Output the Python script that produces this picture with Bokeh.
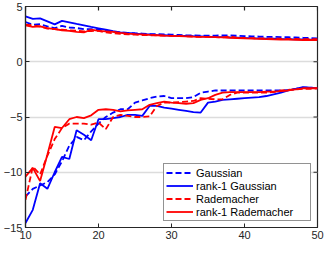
import math
from bokeh.plotting import figure
from bokeh.models import Range1d, FixedTicker, Legend, LegendItem
from bokeh.embed import file_html
from bokeh.resources import INLINE

n = list(range(10, 51))

# upper group (values near 2-4)
gauss_up = [3.6, 3.35, 3.4, 3.2, 3.05, 3.25, 3.1, 3.05, 2.95, 2.95, 2.9, 2.8, 2.7, 2.65, 2.62,
            2.58, 2.55, 2.5, 2.5, 2.48, 2.45, 2.43, 2.4, 2.38, 2.37, 2.37, 2.37, 2.38, 2.4, 2.35,
            2.32, 2.3, 2.28, 2.26, 2.25, 2.23, 2.22, 2.2, 2.17, 2.15, 2.12]
r1gauss_up = [4.1, 3.88, 3.92, 3.65, 3.38, 3.7, 3.57, 3.43, 3.3, 3.16, 3.03, 2.9, 2.76, 2.65, 2.6,
              2.55, 2.5, 2.47, 2.43, 2.4, 2.37, 2.35, 2.33, 2.31, 2.3, 2.28, 2.23, 2.22, 2.2, 2.18,
              2.15, 2.13, 2.12, 2.1, 2.08, 2.06, 2.05, 2.03, 2.02, 2.0, 2.0]
radem_up = [3.35, 3.3, 3.2, 3.0, 2.95, 2.9, 2.85, 2.8, 2.75, 2.78, 2.8, 2.65, 2.58, 2.52, 2.48,
            2.45, 2.42, 2.4, 2.38, 2.37, 2.35, 2.33, 2.3, 2.27, 2.25, 2.25, 2.22, 2.2, 2.3, 2.15,
            2.15, 2.13, 2.12, 2.1, 2.1, 2.08, 2.07, 2.06, 2.05, 2.05, 2.05]
r1radem_up = [3.3, 3.15, 3.2, 3.05, 2.95, 2.85, 2.8, 2.7, 2.65, 2.9, 2.8, 2.75, 2.7, 2.62, 2.55,
              2.5, 2.47, 2.43, 2.4, 2.37, 2.35, 2.32, 2.3, 2.27, 2.25, 2.25, 2.22, 2.2, 2.17, 2.15,
              2.12, 2.1, 2.07, 2.05, 2.03, 2.0, 2.0, 1.98, 1.97, 1.97, 1.97]

# lower group (values near -15 to -2.5)
gauss_lo = [-12.2, -11.5, -11.2, -10.9, -10.2, -9.0, -7.6, -6.8, -7.1, -6.3, -5.6, -5.0, -4.6,
            -4.3, -4.3, -3.7, -3.5, -3.3, -3.15, -3.1, -3.3, -3.3, -3.3, -3.2, -2.8, -2.7, -2.6,
            -2.6, -2.6, -2.6, -2.6, -2.6, -2.6, -2.6, -2.6, -2.6, -2.55, -2.45, -2.35, -2.35, -2.4]
r1gauss_lo = [-14.6, -13.4, -11.0, -11.5, -10.0, -8.6, -8.8, -6.2, -6.6, -7.1, -5.2, -5.2, -5.1,
              -5.0, -4.8, -4.8, -4.9, -4.0, -4.0, -4.15, -4.25, -4.35, -4.45, -4.55, -4.6, -3.7,
              -3.6, -3.45, -3.4, -3.35, -3.3, -3.25, -3.2, -3.1, -2.95, -2.8, -2.6, -2.45, -2.3,
              -2.35, -2.4]
radem_lo = [-12.5, -9.5, -10.2, -8.5, -7.0, -6.0, -5.6, -5.6, -5.6, -5.7, -5.5, -6.1, -5.0, -4.8,
            -4.9, -5.0, -5.0, -4.95, -4.0, -3.7, -3.7, -3.65, -3.6, -3.55, -3.3, -3.35, -3.4, -3.4,
            -3.0, -2.8, -2.8, -2.8, -2.8, -2.8, -2.75, -2.6, -2.55, -2.5, -2.45, -2.45, -2.4]
r1radem_lo = [-10.4, -9.6, -10.8, -8.4, -5.9, -6.0, -5.2, -5.0, -5.1, -4.85, -4.35, -4.3, -4.35,
              -4.5, -4.4, -4.35, -4.3, -3.9, -3.75, -3.6, -3.7, -3.75, -3.8, -3.75, -3.45, -3.3,
              -3.0, -2.8, -2.75, -2.75, -2.75, -2.75, -2.75, -2.7, -2.7, -2.65, -2.6, -2.5, -2.4,
              -2.4, -2.4]

labels = ["Gaussian", "rank-1 Gaussian", "Rademacher", "rank-1 Rademacher"]
x_ticks = [10, 20, 30, 40, 50]
y_ticks = [-15, -10, -5, 0, 5]
x_lim = (10, 50)
y_lim = (-15, 5)

AX = "#262626"
FONT = "Liberation Sans"

p = figure(width=324, height=241, x_range=Range1d(*x_lim), y_range=Range1d(*y_lim),
           output_backend="svg", toolbar_location=None,
           min_border_left=2, min_border_right=7, min_border_top=6, min_border_bottom=2)
p.background_fill_color = "white"
p.outline_line_color = AX
p.outline_line_width = 1.2

for ax in (p.xaxis[0], p.yaxis[0]):
    ax.axis_line_color = AX
    ax.axis_line_width = 1.2
    ax.major_tick_line_color = AX
    ax.major_tick_in = 4
    ax.major_tick_out = 0
    ax.minor_tick_line_color = None
    ax.major_label_text_font = FONT
    ax.major_label_text_font_size = "11px"
    ax.major_label_text_color = AX
    ax.major_label_standoff = 3
p.xaxis[0].ticker = FixedTicker(ticks=x_ticks)
p.yaxis[0].ticker = FixedTicker(ticks=y_ticks)

# inward tick marks on the top and right edges of the box
p.ray(x=x_ticks, y=[y_lim[1]] * len(x_ticks), length=4, length_units="screen",
      angle=-math.pi / 2, line_color=AX, line_width=1.2)
p.ray(x=[x_lim[1]] * len(y_ticks), y=y_ticks, length=4, length_units="screen",
      angle=math.pi, line_color=AX, line_width=1.2)

p.xgrid.grid_line_color = None
p.ygrid.ticker = FixedTicker(ticks=y_ticks)
p.ygrid.grid_line_color = "#dcdcdc"
p.ygrid.grid_line_width = 1.5

BLUE = "#0000ff"
RED = "#ff0000"
LW = 1.8
DASH = "6 3"

series = [
    (gauss_up, gauss_lo, BLUE, DASH),
    (r1gauss_up, r1gauss_lo, BLUE, "solid"),
    (radem_up, radem_lo, RED, DASH),
    (r1radem_up, r1radem_lo, RED, "solid"),
]
items = []
for (up, lo, col, dash), lab in zip(series, labels):
    p.line(n, up, line_color=col, line_width=LW, line_dash=dash)
    r2 = p.line(n, lo, line_color=col, line_width=LW, line_dash=dash)
    items.append(LegendItem(label=lab, renderers=[r2]))

legend = Legend(items=items, location="bottom_right", border_line_color=AX,
                border_line_width=1.2, background_fill_color="white", background_fill_alpha=1,
                label_text_font=FONT, label_text_font_size="11px", label_text_color="#000000",
                glyph_width=27, glyph_height=13, label_height=13, spacing=0, padding=2,
                margin=6, label_standoff=3, label_width=112)
p.add_layout(legend)

open("out.html", "w").write(file_html(p, INLINE))
